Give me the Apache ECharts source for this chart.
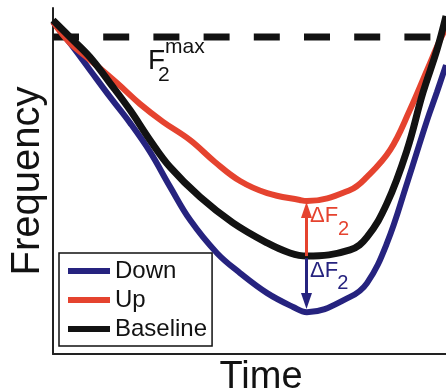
<!DOCTYPE html>
<html>
<head>
<meta charset="utf-8">
<script src="https://cdn.jsdelivr.net/npm/echarts@6/dist/echarts.min.js"></script>
<style>
html,body{margin:0;padding:0;background:#fff;}
#chart{width:446px;height:391px;}
</style>
</head>
<body>
<div id="chart"></div>
<script>
// ---- data (time 0..100, frequency 0..100, arbitrary units) ----
const seriesNames = ['Down', 'Up', 'Baseline'];

const downTime = [0, 4.3, 9.4, 14.5, 19.6, 24.7, 29.8, 34.9, 41.7, 47.6, 54.5, 61.1, 64.6, 75.6, 79.9, 85.0, 90.1, 95.2, 97.7, 100];
const downFreq = [96, 89.9, 82.1, 74.3, 66.8, 58.4, 48.3, 38.7, 29.2, 23.4, 17.6, 13.6, 12.1, 16.5, 20.5, 32.1, 49.4, 67.6, 75.7, 83.5];

const upTime = [0, 4.3, 9.4, 16.3, 22.1, 28.0, 34.9, 41.2, 47.6, 54.5, 62.8, 64.6, 75.6, 79.9, 85.8, 90.8, 95.2, 98.5, 100];
const upFreq = [96, 89.9, 85.0, 78.3, 72.3, 67.1, 61.8, 55.5, 50.0, 46.5, 44.5, 44.2, 47.4, 51.2, 59.0, 70.5, 82.1, 90.8, 94.2];

const baseTime = [0, 4.3, 9.4, 14.5, 19.6, 24.7, 29.8, 37.4, 45.8, 54.5, 60.3, 64.6, 75.6, 79.9, 85.0, 90.1, 94.1, 97.7, 100];
const baseFreq = [96.5, 91.6, 85.8, 78.3, 70.5, 61.8, 54.0, 45.4, 37.9, 32.1, 29.2, 28.3, 30.1, 33.8, 43.6, 59.0, 75.4, 87.9, 97.7];

const f2maxLevel = 91.6;          // dashed F2max level
const timeRange = [0, 100];
const arrowTime = 64.5;            // time of the ΔF2 arrows
const arrowBase = [28.3, 27.7];    // start (baseline) for up / down arrows
const arrowUpEnd = 41.6;           // up arrow end
const arrowDownEnd = 15.3;         // down arrow end

// annotation anchors (data coords)
const f2maxLabelAt = [24.2, 84.5];
const f2maxSubAt = [26.7, 80.5];
const f2maxSupAt = [28.5, 88.7];
const dUpLabelAt = [65.4, 40.0];
const dUpSubAt = [72.5, 36.0];
const dDownLabelAt = [65.4, 24.1];
const dDownSubAt = [72.3, 20.4];

const zip = (a, b) => a.map((v, i) => [v, b[i]]);

const FONT = "'Liberation Sans', Arial, Helvetica, sans-serif";
const BLUE = '#26237f', RED = '#e5432f', BLACK = '#121212';

function txt(coord, text, color, size) {
  return {
    coord: coord, value: text,
    symbol: 'circle', symbolSize: 1,
    itemStyle: { color: 'rgba(0,0,0,0)' },
    label: {
      show: true, position: 'inside', align: 'left', verticalAlign: 'middle',
      formatter: text, color: color, fontSize: size, fontFamily: FONT
    }
  };
}

const chart = echarts.init(document.getElementById('chart'), null, { renderer: 'canvas' });
chart.setOption({
  animation: false,
  backgroundColor: '#fff',
  grid: { left: 53, right: 0, top: 8, bottom: 37, containLabel: false, outerBoundsMode: 'none' },
  xAxis: {
    type: 'value', min: timeRange[0], max: timeRange[1],
    name: 'Time', nameLocation: 'middle', nameGap: 5,
    nameTextStyle: { fontSize: 38, fontFamily: FONT, color: BLACK, padding: [0, 0, 0, 23] },
    axisLine: { show: true, onZero: false, lineStyle: { color: '#222', width: 2 } },
    axisTick: { show: false }, axisLabel: { show: false }, splitLine: { show: false }
  },
  yAxis: {
    type: 'value', min: 0, max: 100,
    name: 'Frequency', nameLocation: 'middle', nameGap: 5,
    nameTextStyle: { fontSize: 40, fontFamily: FONT, color: BLACK },
    axisLine: { show: true, onZero: false, lineStyle: { color: '#222', width: 2 } },
    axisTick: { show: false }, axisLabel: { show: false }, splitLine: { show: false }
  },
  legend: {
    data: seriesNames, orient: 'vertical', left: 59, top: 253,
    backgroundColor: '#fff', borderColor: '#111', borderWidth: 1.5,
    padding: [6, 5, 5, 9], itemWidth: 42, itemHeight: 6, itemGap: 5,
    icon: 'rect',
    textStyle: { fontSize: 24, lineHeight: 24, fontFamily: FONT, color: BLACK },
    selectedMode: false
  },
  series: [
    {
      name: 'F2max', type: 'line', data: zip(timeRange, [f2maxLevel, f2maxLevel]),
      symbol: 'none', silent: true, z: 1,
      lineStyle: { color: BLACK, width: 7, type: [26, 24.2] },
      markPoint: {
        silent: true, animation: false,
        data: [
          txt(f2maxLabelAt, 'F', BLACK, 28),
          txt(f2maxSubAt, '2', BLACK, 21),
          txt(f2maxSupAt, 'max', BLACK, 21)
        ]
      }
    },
    {
      name: 'Down', type: 'line', data: zip(downTime, downFreq), smooth: 0.4,
      symbol: 'none', z: 2, color: BLUE,
      lineStyle: { color: BLUE, width: 6 },
      markLine: {
        silent: true, animation: false, symbol: ['none', 'triangle'], symbolSize: [11, 16],
        label: { show: false },
        lineStyle: { color: BLUE, width: 3, type: 'solid' },
        data: [[{ coord: [arrowTime, arrowBase[1]] }, { coord: [arrowTime, arrowDownEnd] }]]
      },
      markPoint: {
        silent: true, animation: false,
        data: [txt(dDownLabelAt, 'ΔF', BLUE, 22), txt(dDownSubAt, '2', BLUE, 20)]
      }
    },
    {
      name: 'Up', type: 'line', data: zip(upTime, upFreq), smooth: 0.4,
      symbol: 'none', z: 3, color: RED,
      lineStyle: { color: RED, width: 6 },
      markLine: {
        silent: true, animation: false, symbol: ['none', 'triangle'], symbolSize: [11, 16],
        label: { show: false },
        lineStyle: { color: RED, width: 3, type: 'solid' },
        data: [[{ coord: [arrowTime, arrowBase[0]] }, { coord: [arrowTime, arrowUpEnd] }]]
      },
      markPoint: {
        silent: true, animation: false,
        data: [txt(dUpLabelAt, 'ΔF', RED, 22), txt(dUpSubAt, '2', RED, 20)]
      }
    },
    {
      name: 'Baseline', type: 'line', data: zip(baseTime, baseFreq), smooth: 0.4,
      symbol: 'none', z: 4, color: BLACK,
      lineStyle: { color: BLACK, width: 7 }
    }
  ]
});
</script>
</body>
</html>
